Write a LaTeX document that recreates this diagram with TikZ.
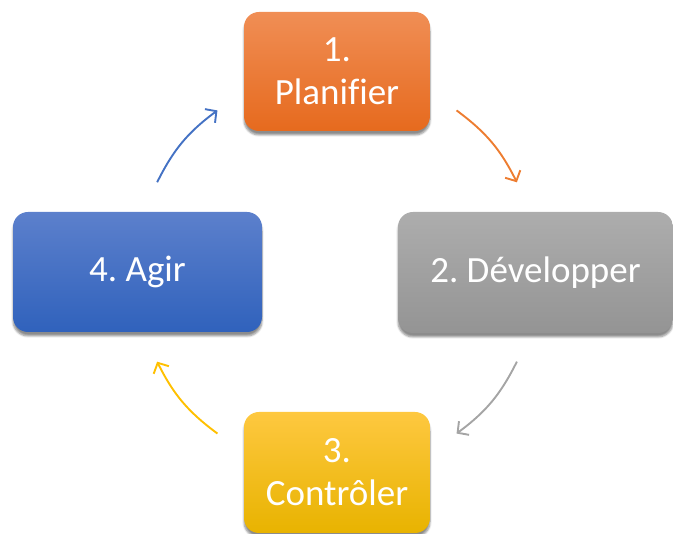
\documentclass[tikz,border=0pt]{standalone}
\usepackage{fontspec}
\setmainfont{Carlito}[Ligatures = {TeX, CommonOff}]
\usetikzlibrary{arrows.meta, shadows.blur}

\definecolor{plantop}{HTML}{F08E55}
\definecolor{planbot}{HTML}{E66A1E}
\definecolor{devtop}{HTML}{ADADAD}
\definecolor{devbot}{HTML}{949494}
\definecolor{ctrltop}{HTML}{FEC840}
\definecolor{ctrlbot}{HTML}{E8B300}
\definecolor{agirtop}{HTML}{5C80CC}
\definecolor{agirbot}{HTML}{3062BC}
\definecolor{planarrow}{HTML}{ED7D31}
\definecolor{devarrow}{HTML}{A5A5A5}
\definecolor{ctrlarrow}{HTML}{FFC000}
\definecolor{agirarrow}{HTML}{4472C4}

\begin{document}
\frenchspacing
\begin{tikzpicture}[x = 1pt, y = 1pt,
    phase/.style = {rounded corners = 15pt, text = white, align = center, inner sep = 0pt,
      font = \fontsize{37}{43}\selectfont,
      blur shadow = {shadow xshift = 0pt, shadow yshift = -4pt, shadow blur steps = 6, shadow opacity = 45}},
    cycle/.style = {-{Straight Barb[length = 8pt, width = 17pt]}, line width = 1.9pt}]
    \useasboundingbox (0, 0) rectangle (673, 534);

    \node [phase, top color = plantop, bottom color = planbot, minimum width = 186pt, minimum height = 119pt]
      (plan) at (337, 462.5) {1.\\Planifier};
    \node [phase, top color = devtop, bottom color = devbot, minimum width = 275pt, minimum height = 121pt]
      (dev) at (535.5, 261.5) {2. Développer};
    \node [phase, top color = ctrltop, bottom color = ctrlbot, minimum width = 186pt, minimum height = 121pt]
      (ctrl) at (337, 61.5) {3.\\Contrôler};
    \node [phase, top color = agirtop, bottom color = agirbot, minimum width = 249pt, minimum height = 120pt]
      (agir) at (137.5, 262) {4. Agir};

    % ends of the arrows, on a circle round the middle
    \begin{scope}[shift = {(337, 262)}]
      \foreach \name/\a in {plan-out/53.5, dev-in/26.5, dev-out/-26.5, ctrl-in/-53.5,
          ctrl-out/-126.5, agir-in/-153.5, agir-out/153.5, plan-in/126.5} {
        \coordinate (\name) at (\a:201);
      }
    \end{scope}

    \draw [cycle, planarrow] (plan-out) to [bend left = 13.5] (dev-in);
    \draw [cycle, devarrow] (dev-out) to [bend left = 13.5] (ctrl-in);
    \draw [cycle, ctrlarrow] (ctrl-out) to [bend left = 13.5] (agir-in);
    \draw [cycle, agirarrow] (agir-out) to [bend left = 13.5] (plan-in);
  \end{tikzpicture}
\end{document}
